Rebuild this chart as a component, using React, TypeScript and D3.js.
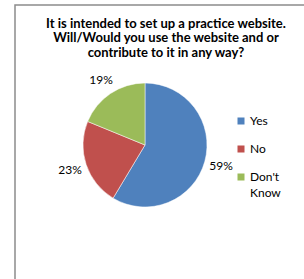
import React from 'react';
import * as d3 from 'd3';

const categories = ['Yes', 'No', "Don't Know"];
const values = [58.6, 22.6, 18.8];
const colors = ['#4f81bd', '#c0504d', '#9bbb59'];
const titleLines = [
  'It is intended to set up a practice website.',
  'Will/Would you use the website and or',
  'contribute to it in any way?',
];

const W = 304;
const H = 279;
const cx = 145;
const cy = 145;
const r = 62;

export default function App() {
  const data = categories.map((c, i) => ({ label: c, value: values[i], color: colors[i] }));
  const pie = d3.pie<{ label: string; value: number; color: string }>().sort(null).value((d) => d.value);
  const arcs = pie(data);
  const arc = d3.arc<d3.PieArcDatum<{ label: string; value: number; color: string }>>().innerRadius(0).outerRadius(r);
  const labelArc = d3.arc<d3.PieArcDatum<{ label: string; value: number; color: string }>>().innerRadius(r + 17).outerRadius(r + 17);
  const total = d3.sum(values);
  const font = 'Lato, Carlito, sans-serif';

  return (
    <svg
      width={W}
      height={H}
      style={{ position: 'absolute', left: 0, top: 0, fontFamily: font }}
    >
      <rect x={0} y={0} width={W} height={H} fill="#fff" />
      <rect x={15} y={5} width={W} height={H} fill="#fff" stroke="#8c8c8c" strokeWidth={1.5} />
      {titleLines.map((t, i) => (
        <text key={i} x={166} y={27.5 + i * 14.8} textAnchor="middle" fontSize={13} fontWeight="bold" fill="#000">
          {t}
        </text>
      ))}
      <g transform={`translate(${cx},${cy})`}>
        {arcs.map((a, i) => (
          <path key={i} d={arc(a) || ''} fill={a.data.color} stroke="#fff" strokeWidth={0.5} />
        ))}
        {arcs.map((a, i) => {
          const [x, y] = labelArc.centroid(a);
          return (
            <text key={i} x={x} y={y} dy="0.35em" textAnchor="middle" fontSize={12} fill="#000">
              {Math.round((a.data.value / total) * 100)}%
            </text>
          );
        })}
      </g>
      {data.map((d, i) => (
        <g key={i} transform={`translate(241,${121 + i * 28})`}>
          <rect x={-3.5} y={-3.5} width={7} height={7} fill={d.color} />
          <text x={9} y={0} fontSize={12} fill="#000">
            {d.label.split(' ').map((w, j) => (
              <tspan key={j} x={9} dy={j === 0 ? '0.35em' : '1.3em'}>
                {w}
              </tspan>
            ))}
          </text>
        </g>
      ))}
    </svg>
  );
}
